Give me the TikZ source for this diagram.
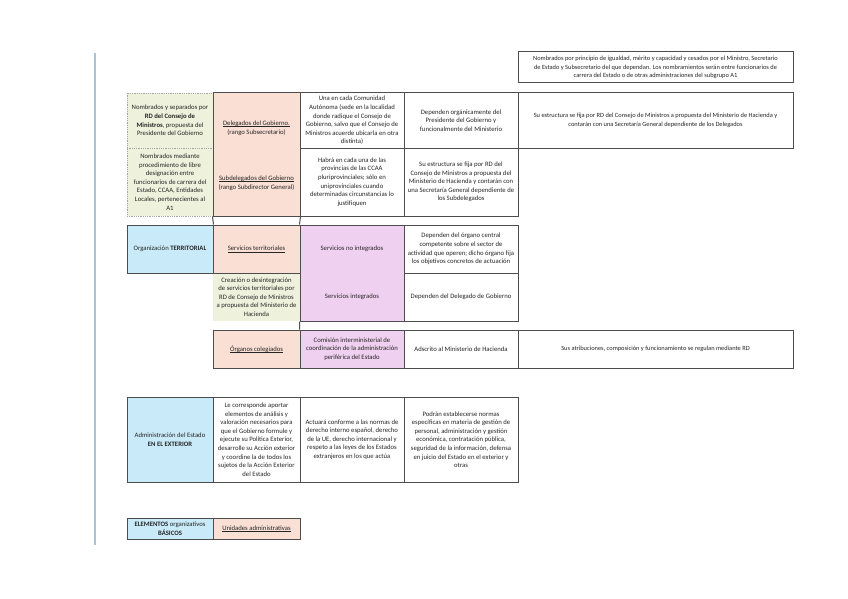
\documentclass[tikz,border=0pt]{standalone}
\usepackage{fontspec}
\setmainfont{Carlito}
\definecolor{gridgray}{HTML}{4D4D4D}
\definecolor{olive}{HTML}{EEF2DC}
\definecolor{salmon}{HTML}{FADFD4}
\definecolor{orchid}{HTML}{F0D0F0}
\definecolor{sky}{HTML}{C9EAF8}
\definecolor{marginc}{HTML}{A9C4D8}
\definecolor{ink}{HTML}{262626}
\newcommand\cellfont{\fontsize{6.7}{8.6}\selectfont}
\newcommand\widefont{\fontsize{6.4}{8.4}\selectfont}
\newcommand\ulin[1]{{\setbox0\hbox{#1}\rlap{\rule[-1.3pt]{\wd0}{0.4pt}}\box0}}
\tikzset{cell/.style={draw=gridgray,line width=1pt,fill=white,align=center,inner sep=0pt,font=\cellfont,text=ink},lite/.style={draw=gray!70,densely dotted,line width=.8pt,fill=olive,align=center,inner sep=0pt,font=\cellfont,text=ink},txt/.style={align=center,inner sep=0pt,font=\cellfont,text=ink},wh/.style 2 args={minimum width=#1pt,minimum height=#2pt}}

\begin{document}
\begin{tikzpicture}[x=1pt,y=-1pt]
\useasboundingbox[fill=white] (0,0) rectangle (848,599);
\draw[marginc,line width=1.3pt] (95,53)--(95,545);
% nombramientos
\node[cell,wh={275}{31},font=\widefont] (nombr) at (655.5,67.5) {Nombrados por principio de igualdad, mérito y capacidad y cesados por el Ministro, Secretario\\de Estado y Subsecretario del que dependan. Los nombramientos serán entre funcionarios de\\carrera del Estado o de otras administraciones del subgrupo A1};
% delegados y subdelegados
\node[lite,wh={86}{55}] (nomsep) at (170,120.5) {Nombrados y separados por\\\textbf{RD del Consejo de}\\\textbf{Ministros}, propuesta del\\Presidente del Gobierno};
\node[lite,wh={86}{68}] (nomlib) at (170,182) {Nombrados mediante\\procedimiento de libre\\designación entre\\funcionarios de carrera del\\Estado, CCAA, Entidades\\Locales, pertenecientes al\\A1};
\node[cell,fill=salmon,wh={87}{123}] (delegbox) at (256.5,154.5) {};
\node[txt] (deleg) at (256.5,128) {\ulin{Delegados del Gobierno.}\\(rango Subsecretario)};
\node[txt] (subdeleg) at (256.5,183) {\ulin{Subdelegados del Gobierno}\\(rango Subdirector General)};
\node[cell,wh={104}{55}] (sede) at (352,120.5) {Una en cada Comunidad\\Autónoma (sede en la localidad\\donde radique el Consejo de\\Gobierno, salvo que el Consejo de\\Ministros acuerde ubicarla en otra\\distinta)};
\node[cell,wh={104}{68}] (prov) at (352,182) {Habrá en cada una de las\\provincias de las CCAA\\pluriprovinciales; sólo en\\uniprovinciales cuando\\determinadas circunstancias lo\\justifiquen};
\node[cell,wh={114}{55}] (depend) at (461,120.5) {Dependen orgánicamente del\\Presidente del Gobierno y\\funcionalmente del Ministerio};
\node[cell,wh={114}{68}] (estsub) at (461,182) {Su estructura se fija por RD del\\Consejo de Ministros a propuesta del\\Ministerio de Hacienda y contarán con\\una Secretaría General dependiente de\\los Subdelegados};
\node[cell,wh={275}{55},font=\widefont] (estdel) at (655.5,120.5) {Su estructura se fija por RD del Consejo de Ministros a propuesta del Ministerio de Hacienda y\\contarán con una Secretaría General dependiente de los Delegados};
% organizacion territorial
\node[txt,fill=olive,wh={87}{48}] (creacion) at (256.5,297) {Creación o desintegración\\de servicios territoriales por\\RD de Consejo de Ministros\\a propuesta del Ministerio de\\Hacienda};
\node[cell,fill=sky,wh={86}{48}] (terr) at (170,249) {Organización \textbf{TERRITORIAL}};
\node[cell,fill=salmon,wh={87}{48}] (servterr) at (256.5,249) {\ulin{Servicios territoriales}};
\node[cell,fill=orchid,wh={104}{96}] (servbox) at (352,273) {};
\node[txt] (noint) at (352,249) {Servicios no integrados};
\node[txt] (integ) at (352,297) {Servicios integrados};
\node[cell,wh={114}{48}] (orgcentral) at (461,249) {Dependen del órgano central\\competente sobre el sector de\\actividad que operen; dicho órgano fija\\los objetivos concretos de actuación};
\node[cell,wh={114}{48}] (delegdep) at (461,297) {Dependen del Delegado de Gobierno};
\node[cell,fill=salmon,wh={87}{38}] (organos) at (256.5,349) {\ulin{Órganos colegiados}};
\node[cell,fill=orchid,wh={104}{38}] (comision) at (352,349) {Comisión interministerial de\\coordinación de la administración\\periférica del Estado};
\node[cell,wh={114}{38}] (adscrito) at (461,349) {Adscrito al Ministerio de Hacienda};
\node[cell,wh={275}{38},font=\widefont] (atrib) at (655.5,349) {Sus atribuciones, composición y funcionamiento se regulan mediante RD};
\draw[gridgray,line width=1pt] (delegbox.south west)--(terr.north east) (delegbox.south east)--(servbox.north west) (servbox.south west)--(comision.north west);
% exterior
\node[cell,fill=sky,wh={86}{85}] (exterior) at (170,439.5) {Administración del Estado\\\textbf{EN EL EXTERIOR}};
\node[cell,wh={87}{85}] (aporta) at (256.5,439.5) {Le corresponde aportar\\elementos de análisis y\\valoración necesarios para\\que el Gobierno formule y\\ejecute su Política Exterior,\\desarrolle su Acción exterior\\y coordine la de todos los\\sujetos de la Acción Exterior\\del Estado};
\node[cell,wh={104}{85}] (actuara) at (352,439.5) {Actuará conforme a las normas de\\derecho interno español, derecho\\de la UE, derecho internacional y\\respeto a las leyes de los Estados\\extranjeros en los que actúa};
\node[cell,wh={114}{85}] (normas) at (461,439.5) {Podrán establecerse normas\\específicas en materia de gestión de\\personal, administración y gestión\\económica, contratación pública,\\seguridad de la información, defensa\\en juicio del Estado en el exterior y\\otras};
% elementos basicos
\node[cell,fill=sky,wh={86}{21}] (basicos) at (170,528.5) {\textbf{ELEMENTOS} organizativos\\\textbf{BÁSICOS}};
\node[cell,fill=salmon,wh={87}{21}] (unidades) at (256.5,528.5) {\ulin{Unidades administrativas}};
\end{tikzpicture}
\end{document}
